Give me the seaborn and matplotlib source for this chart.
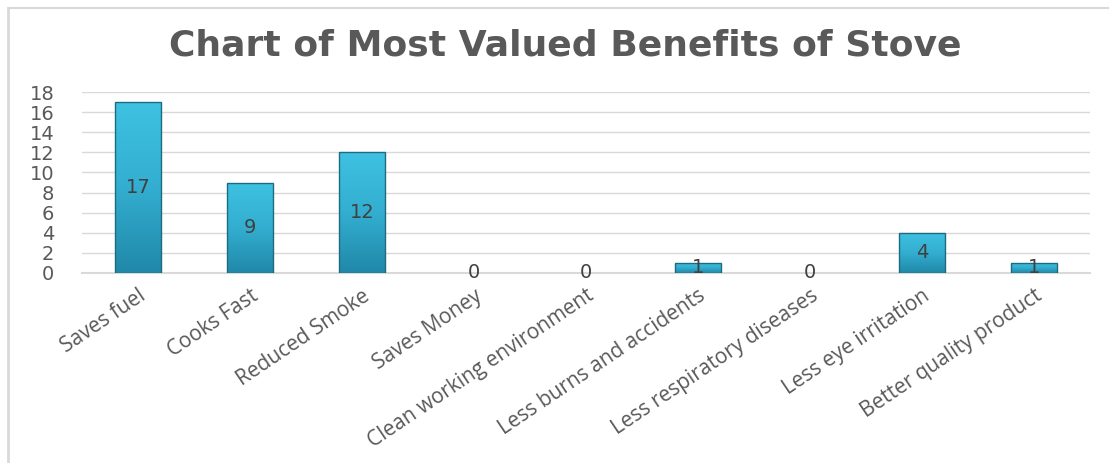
import numpy as np
import pandas as pd
import matplotlib
matplotlib.use("Agg")
import matplotlib.pyplot as plt
from matplotlib.colors import LinearSegmentedColormap
from matplotlib.lines import Line2D
import seaborn as sns

# ── DATA ──────────────────────────────────────────────────────────────────────
benefits = ["Saves fuel", "Cooks Fast", "Reduced Smoke", "Saves Money",
            "Clean working environment", "Less burns and accidents",
            "Less respiratory diseases", "Less eye irritation",
            "Better quality product"]
counts = [17, 9, 12, 0, 0, 1, 0, 4, 1]
y_ticks = [0, 2, 4, 6, 8, 10, 12, 14, 16, 18]
title = "Chart of Most Valued Benefits of Stove"

# ── STYLE ─────────────────────────────────────────────────────────────────────
GRID = "#d9d9d9"
TEXT = "#595959"
LABEL = "#404040"
EDGE = "#1d6b80"

sns.set_theme(style="white")
plt.rcParams["font.family"] = ["DejaVu Sans"]

df = pd.DataFrame({"benefit": benefits, "count": counts})

fig = plt.figure(figsize=(11.09, 4.63), dpi=100, facecolor="white")
ax = fig.add_axes([82 / 1109, 1 - 273 / 463, (1090 - 82) / 1109, (273 - 92) / 463])

sns.barplot(data=df, x="benefit", y="count", ax=ax, color="#2fa6c6",
            width=0.41, linewidth=0, zorder=3)

# vertical gradient fill on each bar
grad = LinearSegmentedColormap.from_list("bar", ["#3ec2e2", "#33aed0", "#2088a8"])
gimg = np.linspace(0, 1, 256).reshape(-1, 1)
for p in ax.patches:
    x0, y0 = p.get_x(), p.get_y()
    w, h = p.get_width(), p.get_height()
    if h <= 0:
        continue
    im = ax.imshow(gimg, cmap=grad, aspect="auto", zorder=3.5,
                   extent=(x0, x0 + w, y0, y0 + h), origin="upper")
    im.set_clip_path(p)
    ax.add_patch(plt.Rectangle((x0, y0), w, h, fill=False,
                               edgecolor=EDGE, lw=1.0, zorder=4))

# value labels in the middle of each bar
for i, v in enumerate(counts):
    ax.text(i, v / 2, str(v), ha="center", va="center", fontsize=14,
            color=LABEL, zorder=5)

ax.set_xlim(-0.5, len(benefits) - 0.5)
ax.set_ylim(0, 18)
ax.set_yticks(y_ticks)
ax.set_yticklabels([str(t) for t in y_ticks], fontsize=14, color=TEXT)
ax.tick_params(axis="y", length=0, pad=20)
ax.tick_params(axis="x", length=0, pad=9)
ax.set_xticks(range(len(benefits)))
ax.set_xticklabels(benefits, rotation=34, ha="right", rotation_mode="anchor",
                   fontsize=15, color=TEXT, family="Open Sans")
ax.set_xlabel("")
ax.set_ylabel("")
ax.grid(axis="y", color=GRID, lw=1.0, zorder=0)
for s in ["top", "right", "left"]:
    ax.spines[s].set_visible(False)
ax.spines["bottom"].set_color(GRID)
ax.spines["bottom"].set_linewidth(1.5)
ax.set_axisbelow(True)

fig.text(565 / 1109, 1 - 46 / 463, title, ha="center", va="center",
         fontsize=26, fontweight="bold", color=TEXT)

# light frame along top and left edges
fig.add_artist(Line2D([8 / 1109, 1], [1 - 8 / 463] * 2, color=GRID, lw=1.5,
                      transform=fig.transFigure))
fig.add_artist(Line2D([8 / 1109] * 2, [0, 1 - 8 / 463], color=GRID, lw=2,
                      transform=fig.transFigure))

fig.savefig("out.png", dpi=100, facecolor="white")
